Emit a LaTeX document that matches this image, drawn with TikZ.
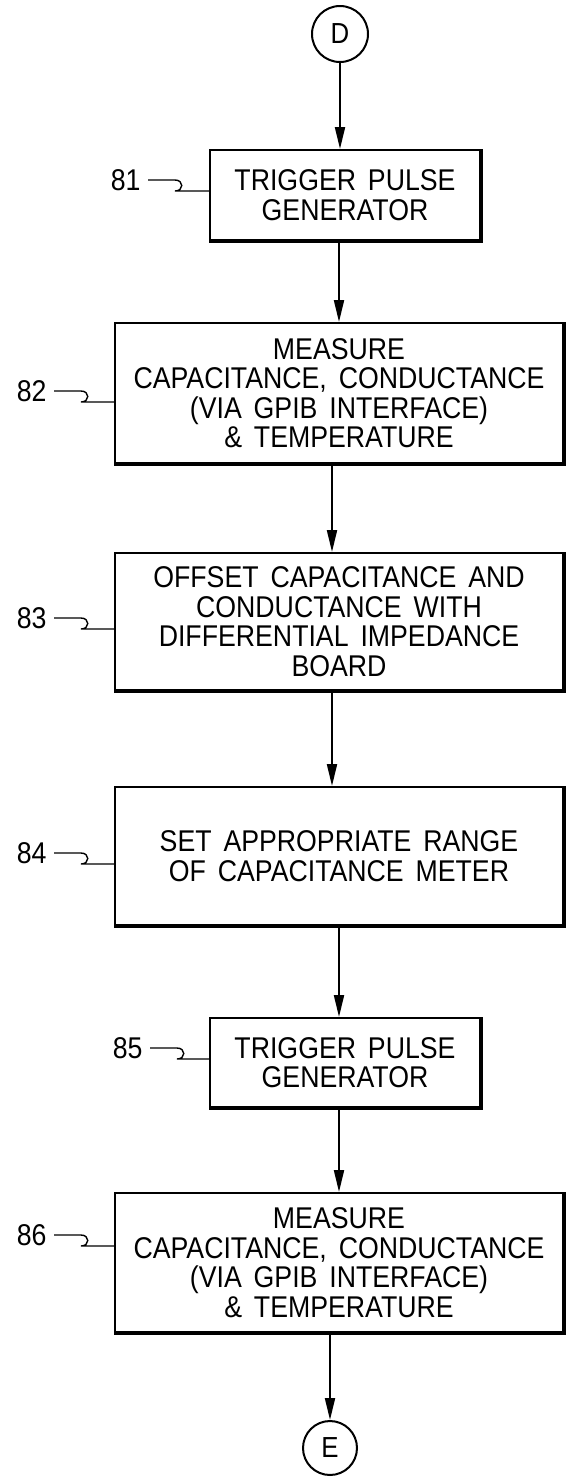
\documentclass[tikz,border=0pt]{standalone}
\usepackage{fontspec}
\setmainfont[FakeStretch=0.89,WordSpace=1.6]{Liberation Sans}
\usetikzlibrary{positioning,arrows.meta,calc}

\begin{document}
\begin{tikzpicture}[
  x=0.5pt,y=-0.5pt,
  font=\fontsize{15}{14.75}\selectfont,
  box/.style={rectangle,draw=black,line width=1pt,fill=white,align=center,inner sep=2pt},
  wide/.style={box,minimum width=224pt,minimum height=69pt},
  narrow/.style={box,minimum width=135pt,minimum height=45pt},
  conn/.style={circle,draw=black,line width=1pt,minimum size=28pt,inner sep=0pt,
               font=\fontsize{14.5}{15}\selectfont},
  num/.style={inner sep=0pt,anchor=east},
  lead/.style={line width=0.7pt},
  heavy/.style={line width=2pt},
  arr/.style={-{Triangle[length=11pt,width=5pt]},line width=1pt},
]
\useasboundingbox (0,0) rectangle (568,1479);

% ---------- connectors and steps ----------
\node[conn] (d) at (340,34) {D};
\node[narrow] (b81) at (345,195) {TRIGGER PULSE\\GENERATOR};
\node[wide,minimum height=70pt] (b82) at (339,393)
  {MEASURE\\CAPACITANCE, CONDUCTANCE\\(VIA GPIB INTERFACE)\\\& TEMPERATURE};
\node[wide,minimum height=68.5pt] (b83) at (339,621.5)
  {OFFSET CAPACITANCE AND\\CONDUCTANCE WITH\\DIFFERENTIAL IMPEDANCE\\BOARD};
\node[wide] (b84) at (339,856) {SET APPROPRIATE RANGE\\OF CAPACITANCE METER};
\node[narrow,minimum height=44.5pt] (b85) at (345,1062.5) {TRIGGER PULSE\\GENERATOR};
\node[wide,minimum height=69.5pt] (b86) at (339,1262.5)
  {MEASURE\\CAPACITANCE, CONDUCTANCE\\(VIA GPIB INTERFACE)\\\& TEMPERATURE};
\node[conn,minimum size=27pt] (e) at (330,1448) {E};

% heavier bottom and right edges
\foreach \b in {b81,b82,b83,b84,b85,b86}
  \draw[heavy] (\b.north east) -- (\b.south east) -- (\b.south west);

% flow arrows
\draw[arr] (d) -- (d |- b81.north);
\draw[arr] (b81.south -| b82) -- (b82.north);
\draw[arr] ([xshift=-3.5pt]b82.south) -- ([xshift=-3.5pt]b83.north);
\draw[arr] ([xshift=-3.5pt]b83.south) -- ([xshift=-3.5pt]b84.north);
\draw[arr] (b84.south) -- (b84.south |- b85.north);
\draw[arr] (b85.south -| b86) -- (b86.north);
\draw[arr] (b86.south -| e) -- (e);

% reference numerals with their leaders
\foreach \n/\x/\y in {81/141/180, 82/47/391, 83/47/618, 84/47/853, 85/143/1048, 86/47/1235} {
  \node[num] (l\n) at (\x,\y) {\n};
  \draw[lead] (l\n.east) ++(7,0) -- ++(27,0) .. controls +(9,0) and +(9,0) .. ++(0,11)
    -- ($(l\n.east -| b\n.west)+(0,11)$);
}
\end{tikzpicture}
\end{document}
